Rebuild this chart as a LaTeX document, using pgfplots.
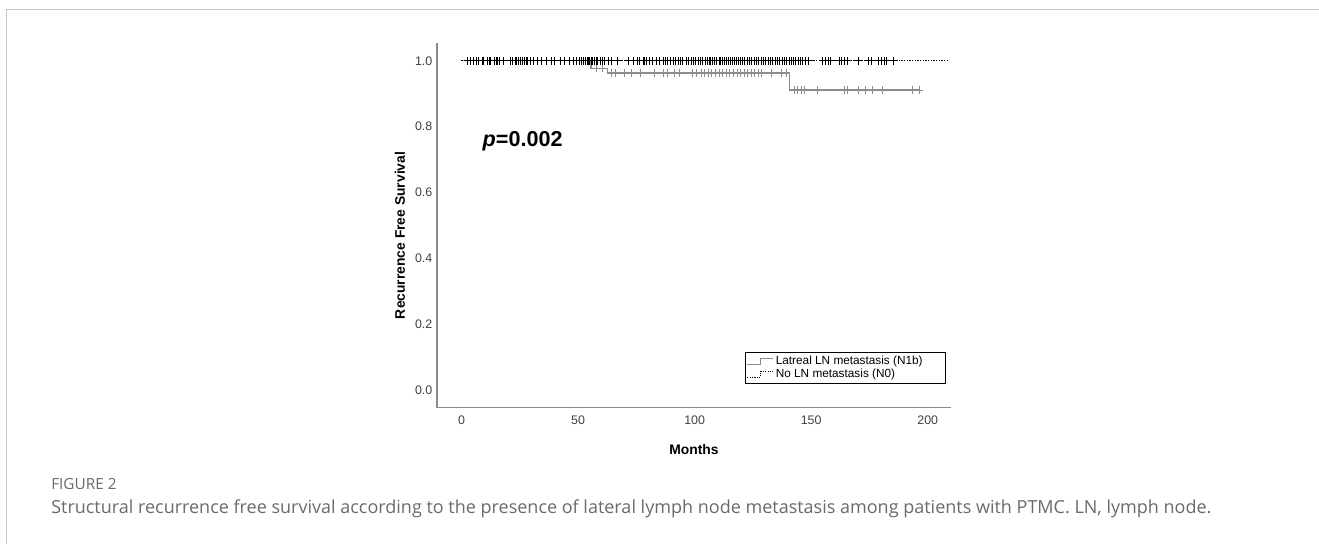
\documentclass[border=0pt]{standalone}
\usepackage{fontspec}
\setmainfont{Liberation Sans}
\newfontfamily\capfont{Open Sans}
\usepackage{pgfplots}
\pgfplotsset{compat=1.18}

\definecolor{framegray}{HTML}{C8C8C8}
\definecolor{capgray}{HTML}{6A6A6A}
\definecolor{curvegray}{HTML}{8C8C8C}
\definecolor{axisgray}{HTML}{8A8A8A}

\begin{document}
\begin{tikzpicture}
% page layout in pixel units of the reference (y downwards)
\begin{scope}[x=0.75pt,y=-0.75pt]
  \path[use as bounding box] (0,0) rectangle (1319,544);
  \draw[framegray, line width=0.8pt] (6.3,544) -- (6.3,9.3) -- (1319,9.3);
  \node[anchor=west, inner sep=0pt, text=capgray, font=\capfont\fontsize{11.5}{13}\selectfont] at (51,484) {FIGURE 2};
  \node[anchor=west, inner sep=0pt, text=capgray, font=\capfont\fontsize{13.5}{16}\selectfont] at (51,509)
    {Structural recurrence free survival according to the presence of lateral lymph node metastasis among patients with PTMC. LN, lymph node.};
\end{scope}

\begin{axis}[
  at={(327.75pt,-305.8pt)}, anchor=south west,
  scale only axis, width=385.5pt, height=273.3pt,
  xmin=-10.5, xmax=210, ymin=-0.054, ymax=1.053,
  axis lines*=left,
  axis line style={axisgray, line width=1.1pt},
  xtick={0,50,...,200},
  ytick={0,0.2,0.4,0.6,0.8,1.0},
  major tick length=0pt,
  tick label style={font=\fontsize{9.3}{10}\selectfont, text=black!75},
  xticklabel style={yshift=-2.5pt},
  yticklabel style={/pgf/number format/.cd, fixed, fixed zerofill, precision=1},
  /pgf/number format/assume math mode=true,
  xlabel={\textbf{Months}},
  ylabel={\textbf{Recurrence Free Survival}},
  label style={font=\fontsize{10.4}{11}\selectfont},
  xlabel style={at={(rel axis cs:0.5,-0.116)}, anchor=center},
  ylabel style={at={(rel axis cs:-0.072,0.473)}, anchor=center},
  legend style={at={(rel axis cs:0.5992,0.065)}, anchor=south west,
    draw=black, line width=0.6pt, font=\fontsize{8.85}{9.5}\selectfont,
    inner xsep=1pt, inner ysep=1.2pt, row sep=-2.5pt},
  legend cell align=left,
  clip=false,
]

% N1b: lateral LN metastasis (grey step curve)
\addplot[const plot, curvegray, line width=0.9pt, forget plot] coordinates {
  (0,1) (55.6,0.976) (62.5,0.963) (140.7,0.911) (196.5,0.911)
};
\addplot[only marks, mark=+, mark size=2.8pt, curvegray, line width=0.7pt, forget plot] coordinates {
  (58.0,0.976) (60.3,0.976)
  (64.5,0.963) (66.0,0.963) (69.9,0.963) (72.9,0.963) (76.8,0.963) (82.9,0.963)
  (86.7,0.963) (88.3,0.963) (91.3,0.963) (93.7,0.963) (99.0,0.963) (100.6,0.963)
  (102.9,0.963) (104.4,0.963) (105.9,0.963) (107.4,0.963) (109.0,0.963) (110.5,0.963)
  (112.0,0.963) (113.6,0.963) (115.1,0.963) (116.6,0.963) (118.2,0.963) (119.7,0.963)
  (121.2,0.963) (122.8,0.963) (124.3,0.963) (125.8,0.963) (127.4,0.963) (128.9,0.963)
  (132.8,0.963) (137.4,0.963) (139.4,0.963)
  (142.7,0.911) (144.3,0.911) (145.8,0.911) (147.3,0.911) (152.7,0.911) (164.2,0.911)
  (165.7,0.911) (170.4,0.911) (173.5,0.911) (176.5,0.911) (180.4,0.911) (193.6,0.911)
  (196.5,0.911)
};

% N0: no LN metastasis (black dotted line, censored at 1.0)
\addplot[black, densely dotted, line width=1pt, forget plot] coordinates {(0,1) (209,1)};
\addplot[only marks, mark=+, mark size=2.8pt, black, line width=0.75pt, forget plot] table[y expr=1] {
x
2.5
4
5
6.5
7.5
9
9.5
11
12
12.5
14
15
15.5
16.5
18
21
22
23
23.5
24.5
25.5
26.3
27
27.8
28.5
29.5
31
32.5
34.5
36.5
38.5
40
42.5
44
46.5
48
49.5
50.5
51.5
52.5
53.2
53.9
54.5
55.1
55.7
56.3
57
57.8
58.5
59.5
60.5
61.5
63
64.5
67
71.5
74
75.5
76.5
78
78.7
79.5
80.8
82
83.5
85
86.5
87.5
88.5
89.5
91
92
93
94
95
96.5
97.5
98.5
99.5
100.5
101.5
102.5
103.5
104.5
105.5
106.3
107
107.8
108.5
109.5
110.5
111.3
112
112.8
113.5
114.5
115.5
116.3
117.1
117.9
118.7
119.5
120.5
121.5
122.5
123.5
124.5
125.5
126.5
127.5
128.5
129.5
130.5
131.5
132.5
133.5
134.5
135.5
136.5
137.5
138.5
139.5
140.5
141.5
142.5
143.5
144.5
145.5
146.5
147.5
149
155
156
157.5
158.5
162
163
164.5
165.5
170.5
174.5
176
179
180
181.5
182.5
185.5
};

\addlegendimage{legend image code/.code={
  \draw[curvegray, line width=0.8pt] (0pt,-2.5pt) -- (10pt,-2.5pt) -- (10pt,2pt) -- (19pt,2pt);}}
\addlegendentry{Latreal LN metastasis (N1b)\hspace*{14pt}}
\addlegendimage{legend image code/.code={
  \draw[black, densely dotted, line width=0.8pt] (0pt,-2.5pt) -- (10pt,-2.5pt) -- (10pt,2pt) -- (19pt,2pt);}}
\addlegendentry{No LN metastasis (N0)}

\node[anchor=west, inner sep=0pt, font=\bfseries\fontsize{16.2}{16}\selectfont] at (axis cs:9,0.756) {\textit{p}=0.002};
\end{axis}
\end{tikzpicture}
\end{document}
